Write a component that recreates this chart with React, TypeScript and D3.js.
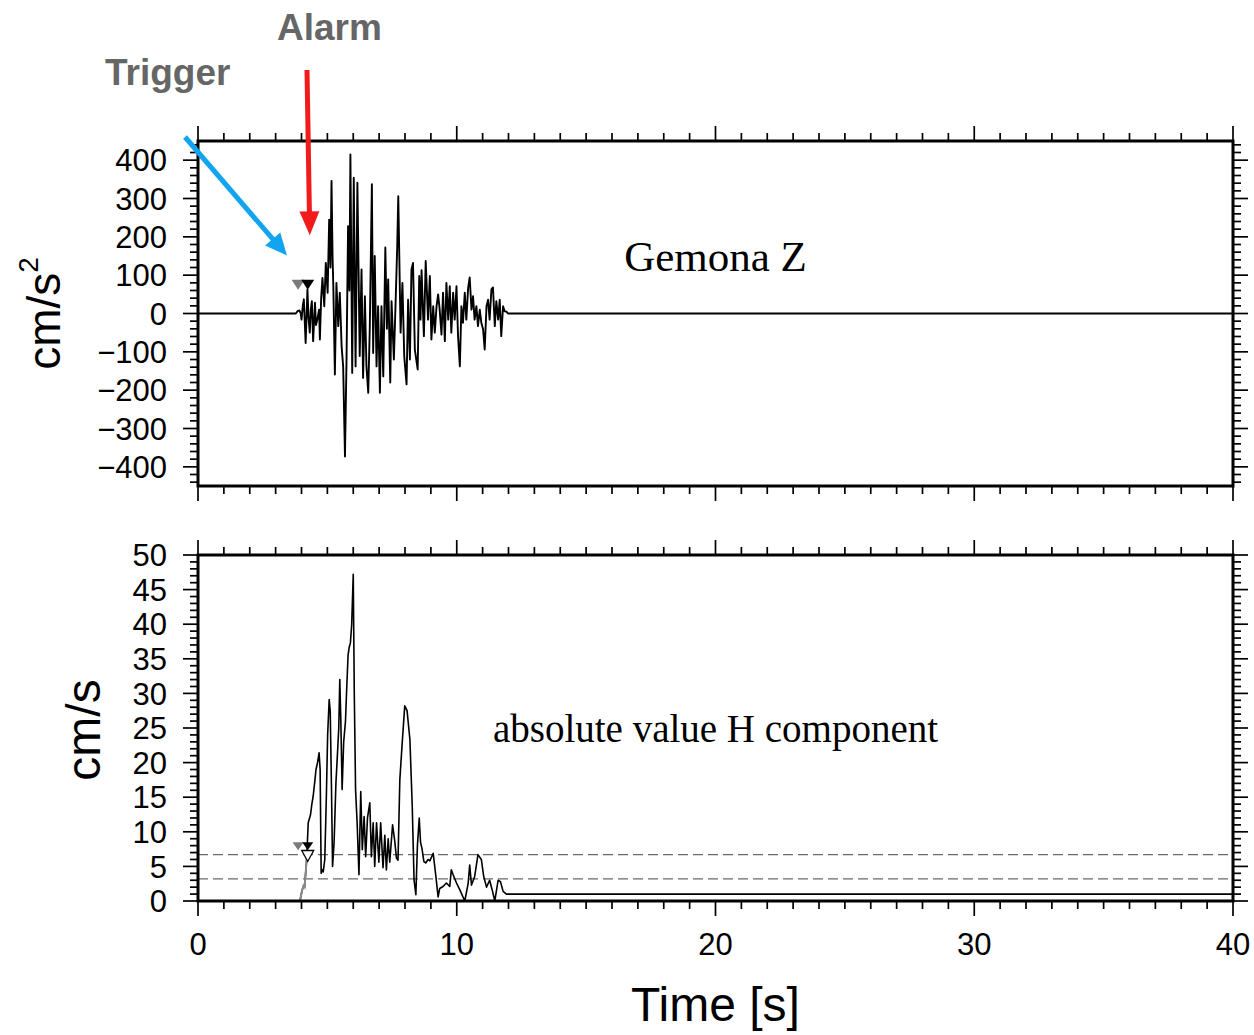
import React from "react";
import * as d3 from "d3";

// ---- figure data -------------------------------------------------------

// time axis (seconds)
const timeDomain = [0, 40];
const timeTicks = [0, 10, 20, 30, 40];

// vertical acceleration, Gemona Z (cm/s^2)
const accelDomain = [-450, 450];
const accelTicks = [-400, -300, -200, -100, 0, 100, 200, 300, 400];
const accelT = [0, 3.78, 3.85, 3.92, 3.97, 4.00, 4.05, 4.09, 4.16, 4.23,
  4.27, 4.32, 4.36, 4.40, 4.45, 4.52, 4.56, 4.61, 4.68, 4.71,
  4.76, 4.81, 4.88, 4.94, 5.01, 5.07, 5.12, 5.16, 5.20, 5.23,
  5.29, 5.35, 5.42, 5.48, 5.55, 5.61, 5.68, 5.74, 5.80, 5.85,
  5.89, 5.96, 6.02, 6.09, 6.16, 6.25, 6.32, 6.38, 6.45, 6.51,
  6.58, 6.64, 6.72, 6.77, 6.83, 6.90, 6.96, 7.03, 7.09, 7.16,
  7.24, 7.30, 7.35, 7.43, 7.48, 7.57, 7.64, 7.70, 7.74, 7.83,
  7.90, 7.97, 8.06, 8.12, 8.19, 8.25, 8.31, 8.38, 8.49, 8.55,
  8.60, 8.64, 8.73, 8.80, 8.89, 8.96, 9.02, 9.09, 9.15, 9.22,
  9.28, 9.34, 9.41, 9.47, 9.54, 9.60, 9.67, 9.73, 9.79, 9.86,
  9.92, 9.99, 10.05, 10.12, 10.18, 10.24, 10.31, 10.37, 10.44, 10.50,
  10.57, 10.63, 10.69, 10.76, 10.82, 10.89, 10.95, 11.02, 11.08, 11.15,
  11.21, 11.27, 11.34, 11.40, 11.47, 11.53, 11.60, 11.66, 11.72, 11.79,
  11.85, 11.92, 11.98, 40];
const accelZ = [0, 0, 6, 8, 0, -16, 20, 37, -77, 63,
  -10, -50, 10, 32, -72, 28, -30, -16, 10, -68,
  40, 93, 19, 132, 54, 245, 120, 346, 150, 71,
  -159, 80, -33, 54, -85, -138, -373, -120, 228, 60,
  415, -155, 354, -138, 341, -111, 115, -168, 45, -138,
  -207, -33, 337, -103, 150, -138, 19, -207, 19, -164,
  172, -40, 89, -180, 32, -120, 36, 176, 306, -50,
  80, -111, -185, 36, -120, 115, 132, -94, -146, 98,
  -16, 113, -59, 137, -16, 98, -68, 19, -50, 19,
  50, 10, -55, 54, -72, 80, -16, 71, -50, 54,
  -16, 71, -59, -138, 19, -24, 54, -16, 67, 94,
  10, 45, -16, 19, -33, 10, -24, -42, -94, 19,
  36, -16, 63, 68, -33, 32, -16, 36, -59, 19,
  6, 5, 0, 0];

// absolute horizontal velocity (cm/s)
const velDomain = [0, 50];
const velTicks = [0, 5, 10, 15, 20, 25, 30, 35, 40, 45, 50];
const velT = [0, 3.94, 4.02, 4.08, 4.12, 4.20, 4.26, 4.35, 4.40, 4.45,
  4.52, 4.56, 4.62, 4.68, 4.72, 4.76, 4.80, 4.84, 4.90, 4.96,
  5.01, 5.07, 5.11, 5.16, 5.20, 5.26, 5.33, 5.40, 5.44, 5.48,
  5.52, 5.57, 5.63, 5.70, 5.75, 5.80, 5.84, 5.89, 5.94, 6.00,
  6.04, 6.09, 6.15, 6.22, 6.29, 6.35, 6.42, 6.48, 6.55, 6.64,
  6.70, 6.77, 6.83, 6.90, 6.99, 7.06, 7.15, 7.22, 7.28, 7.35,
  7.41, 7.52, 7.60, 7.67, 7.73, 7.80, 7.90, 7.99, 8.08, 8.19,
  8.28, 8.35, 8.42, 8.48, 8.55, 8.60, 8.66, 8.73, 8.80, 8.89,
  8.96, 9.09, 9.18, 9.28, 9.34, 9.47, 9.60, 9.73, 9.79, 9.86,
  9.99, 10.12, 10.31, 10.44, 10.50, 10.57, 10.69, 10.82, 10.95, 11.04,
  11.15, 11.27, 11.37, 11.47, 11.60, 11.69, 11.79, 11.92, 40];
const velH = [0, 0, 1.5, 2.2, 2.0, 6.0, 11.3, 12.5, 14.0, 15.1,
  17.5, 19.0, 20.0, 21.4, 19.0, 4.0, 4.5, 4.2, 6.0, 15,
  24, 29.1, 27.5, 16, 5.0, 8.5, 17, 22, 25, 32.0,
  26, 16.1, 23, 26, 31, 35.5, 36.6, 37.3, 40, 47.2,
  30, 16, 11.3, 3.8, 15.8, 7.4, 12.2, 6.4, 12.0, 14.2,
  6.4, 11.3, 5.0, 11.3, 5.6, 11.3, 4.8, 9.5, 4.5, 9.0,
  5.6, 11.0, 8.8, 6.2, 5.9, 17.5, 23.3, 28.2, 27.5, 23.3,
  13.7, 3.0, 0.9, 8, 12.0, 8.5, 7.5, 5.7, 5.5, 6.0,
  5.8, 6.9, 4.0, 0.6, 1.8, 2.1, 2.6, 2.1, 4.5, 3.8,
  2.6, 1.6, 0, 2.5, 5.2, 2.3, 3.5, 6.7, 6.0, 3.6,
  2.0, 3.0, 1.6, 0, 3.0, 2.8, 1.4, 1.0, 1.0];

// velocity thresholds (dashed lines)
const velThresholds = [6.7, 3.2];

// picks
const triggerTime = 3.87;
const alarmTime = 4.24;
const accelMarkLevel = 88;
const velMarkLevel = 8.5;
const velAlarmLevel = 7.3;

// ---- layout -------------------------------------------------------------

const W = 1254;
const H = 1035;
const X0 = 198;
const X1 = 1233;
const topPanel = { top: 141, bottom: 486 };
const botPanel = { top: 555, bottom: 901 };

const SANS = "'Liberation Sans', Arial, Helvetica, sans-serif";
const SERIF = "'Liberation Serif', 'Times New Roman', serif";

const xScale = d3.scaleLinear().domain(timeDomain).range([X0, X1]);
const yAccel = d3.scaleLinear().domain(accelDomain).range([topPanel.bottom, topPanel.top]);
const yVel = d3.scaleLinear().domain(velDomain).range([botPanel.bottom, botPanel.top]);

const fmt = d3.format("d");

type Scale = d3.ScaleLinear<number, number>;

function Frame({
  y,
  minorStep,
  majorTicks,
  top,
  bottom,
  xLabels,
}: {
  y: Scale;
  minorStep: number;
  majorTicks: number[];
  top: number;
  bottom: number;
  xLabels: boolean;
}) {
  const [d0, d1] = y.domain();
  const yMinor = d3.range(Math.ceil(d0 / minorStep) * minorStep, d1 + 1e-9, minorStep);
  const xMinor = d3.range(timeDomain[0], timeDomain[1] + 1e-9, 1);
  const MAJ = 15;
  const MIN = 8;
  const sw = 3;
  const isMajorY = (v: number) => majorTicks.some((m) => Math.abs(m - v) < 1e-6);
  const isMajorX = (v: number) => timeTicks.some((m) => Math.abs(m - v) < 1e-6);
  return (
    <g>
      {/* y ticks, left and right, pointing outward */}
      {yMinor.map((v) => {
        const len = isMajorY(v) ? MAJ : MIN;
        const py = y(v);
        return (
          <g key={"y" + v}>
            <line x1={X0 - len} x2={X0} y1={py} y2={py} stroke="#000" strokeWidth={1.7} />
            <line x1={X1} x2={X1 + len} y1={py} y2={py} stroke="#000" strokeWidth={1.7} />
          </g>
        );
      })}
      {/* x ticks, top and bottom, pointing outward */}
      {xMinor.map((v) => {
        const len = isMajorX(v) ? MAJ : MIN;
        const px = xScale(v);
        return (
          <g key={"x" + v}>
            <line x1={px} x2={px} y1={top - len} y2={top} stroke="#000" strokeWidth={1.7} />
            <line x1={px} x2={px} y1={bottom} y2={bottom + len} stroke="#000" strokeWidth={1.7} />
          </g>
        );
      })}
      <rect
        x={X0}
        y={top}
        width={X1 - X0}
        height={bottom - top}
        fill="none"
        stroke="#000"
        strokeWidth={sw}
      />
      {majorTicks.map((v) => (
        <text
          key={"yl" + v}
          x={X0 - 31}
          y={y(v)}
          dy="0.36em"
          textAnchor="end"
          fontFamily={SANS}
          fontSize={31}
          fill="#000"
        >
          {fmt(v)}
        </text>
      ))}
      {xLabels &&
        timeTicks.map((v) => (
          <text
            key={"xl" + v}
            x={xScale(v)}
            y={bottom + 54}
            textAnchor="middle"
            fontFamily={SANS}
            fontSize={31}
            fill="#000"
          >
            {fmt(v)}
          </text>
        ))}
    </g>
  );
}

function downTriangle(cx: number, topY: number, w: number, h: number) {
  return `M${cx - w / 2},${topY}L${cx + w / 2},${topY}L${cx},${topY + h}Z`;
}

function Arrow({ x1, y1, x2, y2, color, width, head, half }: {
  x1: number; y1: number; x2: number; y2: number; color: string; width: number; head: number; half: number;
}) {
  const dx = x2 - x1;
  const dy = y2 - y1;
  const len = Math.hypot(dx, dy);
  const ux = dx / len;
  const uy = dy / len;
  const bx = x2 - ux * head;
  const by = y2 - uy * head;
  const px = -uy;
  const py = ux;
  const headPath = `M${x2},${y2}L${bx + px * half},${by + py * half}L${bx - px * half},${by - py * half}Z`;
  return (
    <g>
      <line x1={x1} y1={y1} x2={bx + ux * 2} y2={by + uy * 2} stroke={color} strokeWidth={width} />
      <path d={headPath} fill={color} />
    </g>
  );
}

export default function App() {
  const accelPts: [number, number][] = accelT.map((t, i) => [t, accelZ[i]]);
  const velPts: [number, number][] = velT.map((t, i) => [t, velH[i]]);
  const accelLine = d3
    .line<[number, number]>()
    .x((d) => xScale(d[0]))
    .y((d) => yAccel(d[1]));
  const velLine = d3
    .line<[number, number]>()
    .x((d) => xScale(d[0]))
    .y((d) => yVel(d[1]));

  // the onset of the velocity trace, before the alarm, is drawn in grey
  const velEarly = velPts.filter((d) => d[0] <= 4.2 && d[0] >= 3.94);

  // arrow tips sit just before the picks on the acceleration trace
  const blueTip = { x: xScale(3.44), y: yAccel(151) };
  const redTip = { x: xScale(4.32), y: yAccel(204) };

  return (
    <svg
      width={W}
      height={H}
      viewBox={`0 0 ${W} ${H}`}
      style={{ position: "absolute", left: 0, top: 0, display: "block", background: "#fff" }}
    >
      <rect x={0} y={0} width={W} height={H} fill="#fff" />

      {/* ---------- upper panel: acceleration ---------- */}
      <path d={accelLine(accelPts) || ""} fill="none" stroke="#000" strokeWidth={1.9} strokeLinejoin="round" />
      <path
        d={downTriangle(xScale(triggerTime), yAccel(accelMarkLevel), 13, 10)}
        fill="#7a7a7a"
      />
      <path
        d={downTriangle(xScale(alarmTime), yAccel(accelMarkLevel), 13, 10)}
        fill="#000"
      />
      <Frame
        y={yAccel}
        minorStep={20}
        majorTicks={accelTicks}
        top={topPanel.top}
        bottom={topPanel.bottom}
        xLabels={false}
      />
      <text
        x={xScale(20)}
        y={yAccel(110)}
        textAnchor="middle"
        fontFamily={SERIF}
        fontSize={43}
        fill="#000"
      >
        Gemona Z
      </text>
      <text
        transform={`translate(60, ${(topPanel.top + topPanel.bottom) / 2}) rotate(-90)`}
        textAnchor="middle"
        fontFamily={SANS}
        fontSize={46}
        fill="#000"
      >
        cm/s
        <tspan fontSize={28} dy={-22}>2</tspan>
      </text>

      {/* ---------- lower panel: |H| velocity ---------- */}
      {velThresholds.map((v) => (
        <line
          key={"th" + v}
          x1={X0}
          x2={X1}
          y1={yVel(v)}
          y2={yVel(v)}
          stroke="#6a6a6a"
          strokeWidth={1.4}
          strokeDasharray="10 5"
        />
      ))}
      <path d={velLine(velPts) || ""} fill="none" stroke="#000" strokeWidth={1.6} strokeLinejoin="round" />
      <path d={velLine(velEarly) || ""} fill="none" stroke="#8a8a8a" strokeWidth={2} />
      <path
        d={downTriangle(xScale(triggerTime), yVel(velMarkLevel), 11, 8)}
        fill="#7a7a7a"
      />
      <path
        d={downTriangle(xScale(alarmTime), yVel(velMarkLevel), 11, 8)}
        fill="#000"
      />
      <path
        d={downTriangle(xScale(alarmTime), yVel(velAlarmLevel), 12, 11)}
        fill="#fff"
        stroke="#000"
        strokeWidth={1.3}
      />
      <Frame
        y={yVel}
        minorStep={1}
        majorTicks={velTicks}
        top={botPanel.top}
        bottom={botPanel.bottom}
        xLabels={true}
      />
      <text
        x={xScale(20)}
        y={yVel(23)}
        textAnchor="middle"
        fontFamily={SERIF}
        fontSize={39}
        fill="#000"
      >
        absolute value H component
      </text>
      <text
        transform={`translate(100, ${(botPanel.top + botPanel.bottom) / 2 + 2}) rotate(-90)`}
        textAnchor="middle"
        fontFamily={SANS}
        fontSize={48}
        fill="#000"
      >
        cm/s
      </text>
      <text
        x={xScale(20)}
        y={1021}
        textAnchor="middle"
        fontFamily={SANS}
        fontSize={48}
        fill="#000"
      >
        Time [s]
      </text>

      {/* ---------- annotations ---------- */}
      <text x={105} y={85} fontFamily={SANS} fontWeight="bold" fontSize={37} fill="#666">
        Trigger
      </text>
      <text x={277} y={40} fontFamily={SANS} fontWeight="bold" fontSize={37} fill="#666">
        Alarm
      </text>
      <Arrow x1={185} y1={137} x2={blueTip.x} y2={blueTip.y} color="#12a4ef" width={5} head={22} half={10} />
      <Arrow x1={307} y1={70} x2={redTip.x} y2={redTip.y} color="#f21b1b" width={5} head={24} half={10} />
    </svg>
  );
}
